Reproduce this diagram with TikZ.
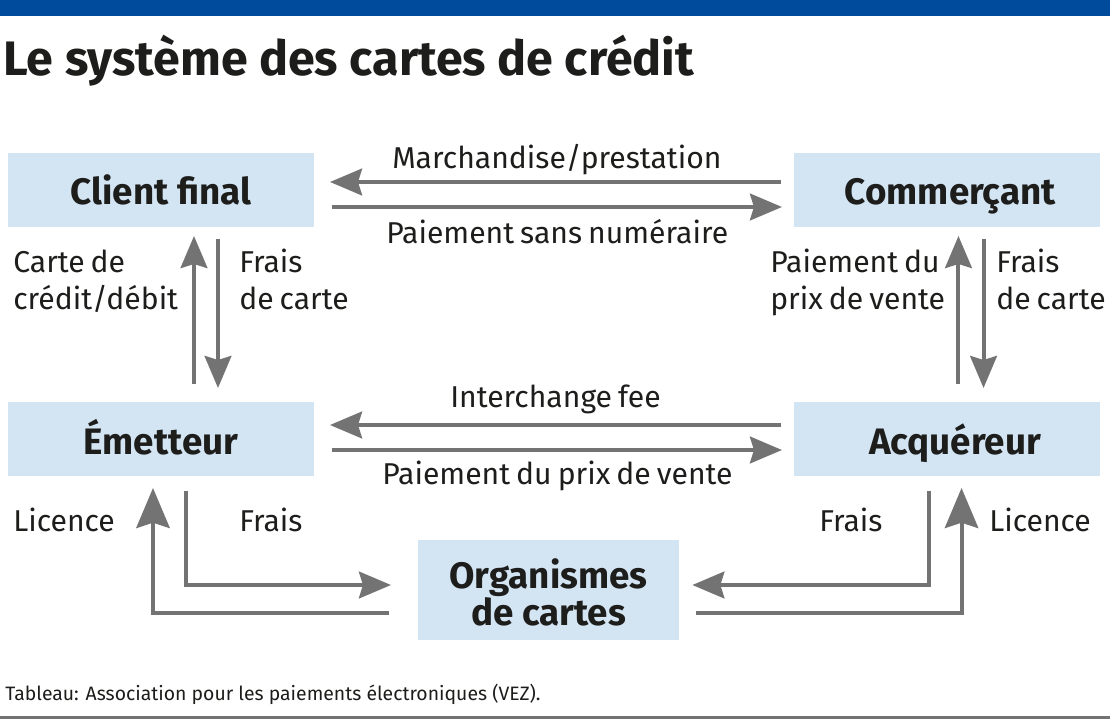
\documentclass[tikz,border=0pt]{standalone}
\usepackage{fontspec}
\setmainfont{Fira Sans}
\usepackage{xcolor}
\usetikzlibrary{arrows.meta,positioning}
\definecolor{boxblue}{HTML}{D3E4F3}
\definecolor{barblue}{HTML}{004B9B}
\definecolor{flowgray}{HTML}{737373}
\definecolor{inkblack}{HTML}{1D1D1B}
\newcommand{\flowfont}{\fontsize{22.6}{27.75}\selectfont\setlength{\spaceskip}{4.5pt}}
\begin{document}
\begin{tikzpicture}[x=0.75pt,y=-0.75pt,text=inkblack,
					main node/.style={fill=boxblue,outer sep=0pt,inner sep=0pt,minimum width=229.5pt,minimum height=55.5pt,text height=22.5pt,text depth=0pt,align=center,font=\fontsize{27.6}{27.75}\selectfont\bfseries},
					flow label/.style={inner sep=0pt,anchor=base west,align=left,font=\flowfont},
					flow/.style={draw=flowgray,line width=3pt,-{Stealth[length=24pt,width=20pt,inset=3pt]}},
					big flow/.style={flow,-{Stealth[length=30pt,width=25pt,inset=4pt]}}]
					
					\useasboundingbox (0,0) rectangle (1110,727);
					\fill[barblue] (0,0) rectangle (1110,16);
					\node (title) [inner sep=0pt,anchor=base west,font=\fontsize{36.3}{40}\selectfont\bfseries] at (3,76) {Le système des cartes de crédit};
					
					\node[main node] (client) at (161,190) {Client final};
					\node[main node] (commercant) [right=360pt of client] {\hspace*{5pt}Commerçant};
					\node[main node] (emetteur) [below=131.25pt of client] {Émetteur};
					\node[main node] (acquereur) [below=131.25pt of commercant] {\hspace*{12pt}Acquéreur};
					\node[main node,minimum width=195.75pt,minimum height=75pt,text height=52.5pt] (organismes) [below right=48pt and 78pt of emetteur] {Organismes\\de cartes};
					
					\draw[flow,shorten <=10pt,shorten >=12pt] ([yshift=6pt]commercant.west) -- ([yshift=6pt]client.east);
					\draw[flow,shorten <=13.5pt,shorten >=9pt] ([yshift=-12.75pt]client.east) -- ([yshift=-12.75pt]commercant.west);
					\draw[flow,shorten <=10pt,shorten >=12pt] ([yshift=10.5pt]acquereur.west) -- ([yshift=10.5pt]emetteur.east);
					\draw[flow,shorten <=13.5pt,shorten >=9pt] ([yshift=-8.25pt]emetteur.east) -- ([yshift=-8.25pt]acquereur.west);
					
					\draw[flow,shorten <=13.5pt,shorten >=6.75pt] ([xshift=24.75pt]emetteur.north) -- ([xshift=24.75pt]client.south);
					\draw[flow,shorten <=9pt,shorten >=10.5pt] ([xshift=42.75pt]client.south) -- ([xshift=42.75pt]emetteur.north);
					\draw[flow,shorten <=13.5pt,shorten >=6.75pt] ([xshift=8.6pt]acquereur.north) -- ([xshift=8.6pt]commercant.south);
					\draw[flow,shorten <=9pt,shorten >=10.5pt] ([xshift=27.4pt]commercant.south) -- ([xshift=27.4pt]acquereur.north);
					
					\draw[flow,shorten <=11.25pt,shorten >=20.25pt] ([xshift=18.75pt]emetteur.south) |- ([yshift=3.75pt]organismes.west);
					\draw[big flow,shorten <=21.75pt,shorten >=9pt] ([yshift=-17.25pt]organismes.west) -| ([xshift=-6pt]emetteur.south);
					\draw[flow,shorten <=11.25pt,shorten >=10pt] ([xshift=-13.5pt]acquereur.south) |- ([yshift=3.75pt]organismes.east);
					\draw[big flow,shorten <=12.75pt,shorten >=9pt] ([yshift=-17.25pt]organismes.east) -| ([xshift=10.9pt]acquereur.south);
					
					\node[flow label] (marchandise) at (392,169) {Marchandise/prestation};
					\node[flow label] (paiementa) at (386,244) {Paiement sans numéraire};
					\node[flow label] (carte) at (13,310) {Carte de\\crédit/débit};
					\node[flow label] (fraisa) at (239,310) {Frais\\de carte};
					\node[flow label] (paiementb) at (770,310) {Paiement du\\prix de vente};
					\node[flow label] (fraisb) at (996,310) {Frais\\de carte};
					\node[flow label] (interchange) at (450,407) {Interchange fee};
					\node[flow label] (paiementc) at (382,484) {Paiement du prix de vente};
					\node[flow label] (licencea) at (13,531) {Licence};
					\node[flow label] (fraisc) at (239,531) {Frais};
					\node[flow label] (fraisd) at (819,531) {Frais};
					\node[flow label] (licenceb) at (989,531) {Licence};
					\node (source) [inner sep=0pt,anchor=base west,font=\fontsize{14.55}{18}\selectfont] at (5,700) {Tableau: Association pour les paiements électroniques (VEZ).};
					
					\draw[flowgray,line width=2.25pt] (0,717) -- (1110,717);
					\end{tikzpicture}
\end{document}
